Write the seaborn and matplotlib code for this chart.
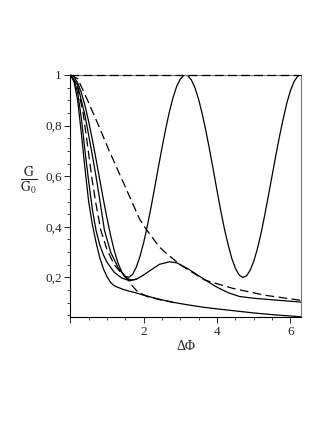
import numpy as np
import pandas as pd
import matplotlib
matplotlib.use('Agg')
import matplotlib.pyplot as plt
import seaborn as sns
from matplotlib.ticker import MultipleLocator, FuncFormatter

sns.set_style('ticks')
plt.rcParams['font.family'] = ['Liberation Serif', 'DejaVu Serif']
plt.rcParams['mathtext.fontset'] = 'stix'

# oscillating curve, read every 0.1
x_osc = list(np.round(np.arange(0, 6.25, 0.1), 1)) + [6.283]
g_osc = [1.0, 0.992, 0.968, 0.930, 0.879, 0.816, 0.745, 0.668, 0.588, 0.509, 0.434,
         0.365, 0.305, 0.257, 0.223, 0.204, 0.201, 0.213, 0.241, 0.284, 0.338, 0.404,
         0.477, 0.555, 0.635, 0.713, 0.787, 0.854, 0.910, 0.955, 0.984, 0.999, 0.997,
         0.980, 0.948, 0.902, 0.843, 0.776, 0.701, 0.623, 0.542, 0.464, 0.392, 0.330,
         0.276, 0.236, 0.210, 0.200, 0.206, 0.228, 0.264, 0.314, 0.375, 0.447, 0.524,
         0.602, 0.681, 0.756, 0.825, 0.888, 0.938, 0.974, 0.995, 1.0]

# lowest solid curve
x_low = [0, 0.1, 0.2, 0.3, 0.4, 0.5, 0.6, 0.7, 0.8, 0.9, 1.0, 1.1, 1.2, 1.4, 1.6, 1.8, 2.0,
         2.4, 2.8, 3.2, 3.6, 4.0, 4.5, 5.0, 5.6, 6.28]
g_low = [1.0, 0.975, 0.9, 0.77, 0.63, 0.5, 0.41, 0.34, 0.28, 0.235, 0.203, 0.18, 0.167, 0.155,
         0.146, 0.139, 0.13, 0.115, 0.102, 0.092, 0.083, 0.076, 0.068, 0.06, 0.052, 0.045]

# solid curve with the bump
x_bump = [0, 0.1, 0.2, 0.3, 0.4, 0.5, 0.6, 0.7, 0.8, 0.9, 1.0, 1.2, 1.4, 1.62, 1.8, 2.0, 2.2,
          2.43, 2.7, 2.9, 3.2, 3.52, 3.98, 4.3, 4.61, 5.0, 5.5, 6.28]
g_bump = [1.0, 0.98, 0.93, 0.83, 0.7, 0.58, 0.47, 0.387, 0.33, 0.29, 0.26, 0.22, 0.198, 0.187,
          0.193, 0.21, 0.23, 0.252, 0.262, 0.258, 0.235, 0.205, 0.163, 0.14, 0.125, 0.118, 0.112,
          0.103]

# second solid curve joining the bump curve
x_mid = [0, 0.2, 0.4, 0.58, 0.7, 0.8, 0.93, 1.1, 1.3, 1.5, 1.65, 1.8]
g_mid = [1.0, 0.96, 0.84, 0.7, 0.6, 0.51, 0.387, 0.3, 0.24, 0.2, 0.19, 0.193]

# dashed curves
x_d1 = [0, 0.2, 0.47, 0.8, 1.06, 1.4, 1.89, 2.07, 2.43, 2.62, 3.0, 3.66, 4.43, 5.3, 6.28]
g_d1 = [1.0, 0.985, 0.9, 0.79, 0.7, 0.59, 0.43, 0.39, 0.32, 0.295, 0.25, 0.19, 0.157, 0.13, 0.11]

x_d2 = [0, 0.2, 0.35, 0.49, 0.6, 0.7, 0.83, 1.0, 1.2, 1.4, 1.53, 1.7, 1.84, 2.1, 2.45, 2.8]
g_d2 = [1.0, 0.95, 0.85, 0.7, 0.58, 0.49, 0.387, 0.31, 0.25, 0.215, 0.2, 0.165, 0.143, 0.125,
        0.112, 0.102]

x_one = [0, 6.28]
g_one = [1.0, 1.0]

fig = plt.figure(figsize=(3.27, 4.23), dpi=100)
ax = fig.add_axes([0.215, 0.25, 0.705, 0.573])

solid = [(x_osc, g_osc), (x_low, g_low), (x_bump, g_bump), (x_mid, g_mid)]
dashed = [(x_d1, g_d1), (x_d2, g_d2), (x_one, g_one)]
for xs, gs in solid:
    sns.lineplot(x=xs, y=gs, ax=ax, color='k', lw=0.9, sort=False)
for xs, gs in dashed:
    sns.lineplot(x=xs, y=gs, ax=ax, color='k', lw=0.9, sort=False, dashes=False,
                 linestyle=(0, (7, 3.5)), clip_on=False, zorder=3)

ax.set_xlim(0, 2 * np.pi)
ax.set_ylim(0.043, 1.0)
ax.xaxis.set_major_locator(MultipleLocator(2))
ax.xaxis.set_minor_locator(MultipleLocator(0.5))
ax.yaxis.set_major_locator(MultipleLocator(0.2))
ax.yaxis.set_minor_locator(MultipleLocator(0.05))
ax.xaxis.set_major_formatter(FuncFormatter(lambda v, p: '' if v == 0 else '%g' % v))
ax.yaxis.set_major_formatter(FuncFormatter(lambda v, p: ('%g' % round(v, 2)).replace('.', ',')))
ax.tick_params(which='major', direction='out', length=4, width=0.7, labelsize=9.5, pad=2)
ax.tick_params(which='minor', direction='out', length=2.5, width=0.6)
for name, s in ax.spines.items():
    s.set_linewidth(0.8)
    s.set_color('0.45' if name in ('top', 'right') else 'k')

ax.set_xlabel('ΔΦ', fontsize=10, labelpad=2)
ax.set_ylabel(r'$\frac{\mathrm{G}}{\mathrm{G_0}}$', fontsize=14, rotation=0)
ax.yaxis.set_label_coords(-0.18, 0.5)
ax.grid(False)

fig.patch.set_facecolor('white')
fig.savefig('out.png', dpi=100)
